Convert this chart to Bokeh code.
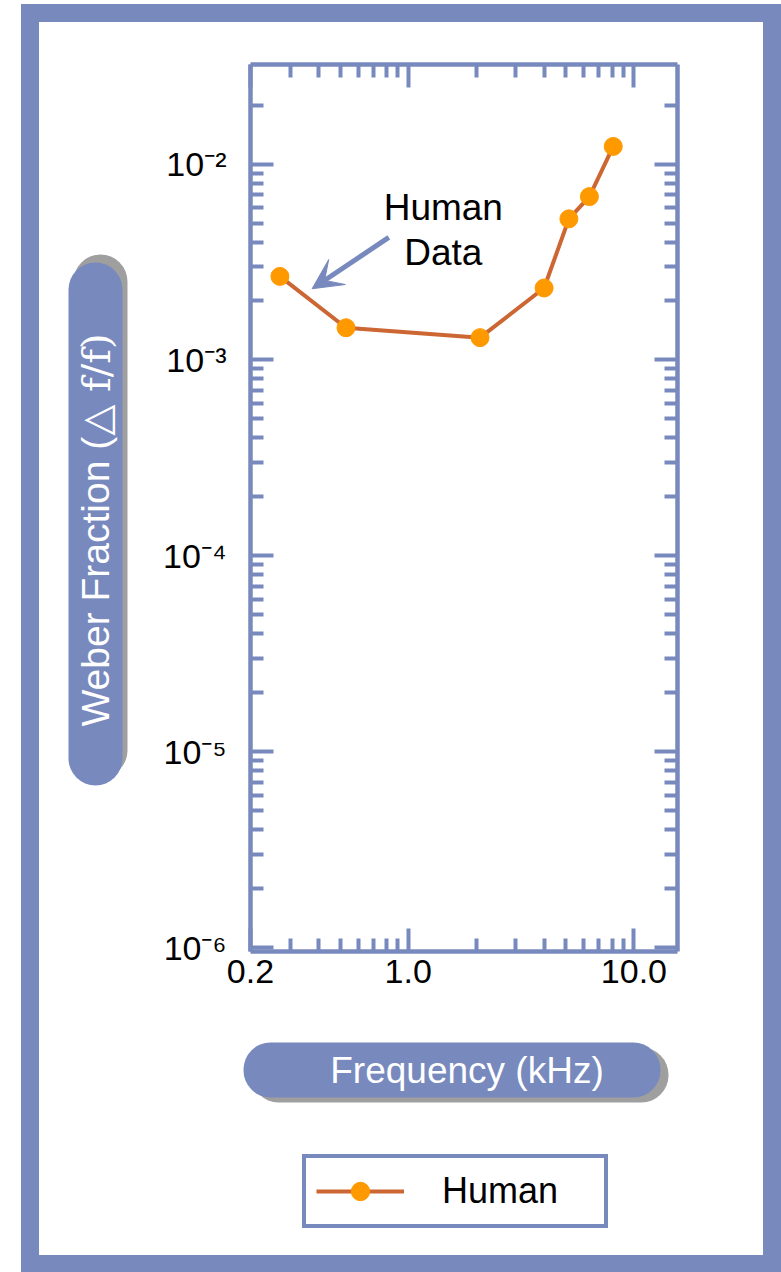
from bokeh.plotting import figure
from bokeh.models import (LogAxis, FixedTicker, Label, Arrow, VeeHead, BoxAnnotation,
                          Legend, LegendItem, Range1d, Column, Row)
from bokeh.embed import file_html
from bokeh.resources import INLINE

# ---- data ----
freq_khz = [0.27, 0.53, 2.08, 4.0, 5.15, 6.35, 8.1]
weber_fraction = [2.67e-3, 1.46e-3, 1.30e-3, 2.33e-3, 5.25e-3, 6.82e-3, 1.23e-2]
series_name = "Human"

x_ticks = [0.2, 1.0, 10.0]
x_tick_labels = ["0.2", "1.0", "10.0"]
x_minor_ticks = [0.3, 0.4, 0.5, 0.6, 0.7, 0.8, 0.9, 2, 3, 4, 5, 6, 7, 8, 9]
y_ticks = [1e-6, 1e-5, 1e-4, 1e-3, 1e-2]
y_tick_labels = ["10\u207b\u2076", "10\u207b\u2075", "10\u207b\u2074", "10\u207b\u00b3", "10\u207b\u00b2"]
y_mantissas = [2, 3, 4, 5, 6, 7, 8, 9]
y_minor_ticks = [m * d for d in [1e-6, 1e-5, 1e-4, 1e-3] for m in y_mantissas] + [2e-2]

x_title = "Frequency (kHz)"
y_title_parts = ["Weber Fraction (", "\u25b3 f/f)"]
note_lines = ["Human", "Data"]

# ---- styles ----
BLUE = "#7889be"
SHADOW = "#9f9f9f"
LINE_C = "#cc6633"
DOT_C = "#ff9900"
FONT = "Liberation Sans"
SERIF = "DejaVu Serif"


def blank_fig(w, h, top=0, bottom=0):
    f = figure(width=w, height=h, output_backend="svg", toolbar_location=None,
               x_axis_location=None, y_axis_location=None,
               x_range=Range1d(0, 1), y_range=Range1d(0, 1),
               min_border=0, min_border_left=0, min_border_right=0,
               min_border_top=top, min_border_bottom=bottom)
    f.xgrid.visible = False
    f.ygrid.visible = False
    f.outline_line_color = None
    f.background_fill_color = "white"
    f.border_fill_color = "white"
    return f


def sbox(l, r, t, b, **kw):
    return BoxAnnotation(left=l, right=r, top=t, bottom=b,
                         left_units="screen", right_units="screen",
                         top_units="screen", bottom_units="screen", **kw)


# ---- main plot ----
p = figure(width=623, height=988, x_axis_type="log", y_axis_type="log",
           x_range=Range1d(0.2, 15.6), y_range=Range1d(10 ** -6.019, 10 ** -1.492),
           output_backend="svg", toolbar_location=None,
           min_border_left=110, min_border_right=86, min_border_top=42, min_border_bottom=59)
p.xgrid.visible = False
p.ygrid.visible = False
p.outline_line_color = None
p.background_fill_color = "white"
p.border_fill_color = "white"


def style_axis(ax, ticks, minor, labels):
    ax.ticker = FixedTicker(ticks=ticks, minor_ticks=minor)
    ax.axis_line_color = BLUE
    ax.axis_line_width = 4.5
    ax.major_tick_line_color = BLUE
    ax.major_tick_line_width = 4
    ax.minor_tick_line_color = BLUE
    ax.minor_tick_line_width = 4
    ax.major_tick_in = 23
    ax.major_tick_out = 0
    ax.minor_tick_in = 13
    ax.minor_tick_out = 0
    ax.major_label_overrides = {t: s for t, s in zip(ticks, labels)}
    ax.major_label_text_font = FONT
    ax.major_label_text_font_size = "34px"
    ax.major_label_text_color = "black"


style_axis(p.xaxis[0], x_ticks, x_minor_ticks, x_tick_labels)
p.xaxis[0].major_label_standoff = 8
style_axis(p.yaxis[0], y_ticks, y_minor_ticks, y_tick_labels)
p.yaxis[0].major_label_standoff = 24

top_ax = LogAxis()
style_axis(top_ax, x_ticks, x_minor_ticks, ["" for _ in x_ticks])
p.add_layout(top_ax, "above")
right_ax = LogAxis()
style_axis(right_ax, y_ticks, y_minor_ticks, ["" for _ in y_ticks])
p.add_layout(right_ax, "right")

line_style = dict(line_color=LINE_C, line_width=4)
dot_style = dict(marker="circle", size=18, fill_color=DOT_C, line_color=DOT_C)
p.line(freq_khz, weber_fraction, **line_style)
p.scatter(freq_khz, weber_fraction, **dot_style)

p.add_layout(Label(x=1.43, y=6.0e-3, text=note_lines[0], text_align="center",
                   text_baseline="middle", text_font=FONT, text_font_size="37px",
                   text_color="black"))
p.add_layout(Label(x=1.43, y=3.53e-3, text=note_lines[1], text_align="center",
                   text_baseline="middle", text_font=FONT, text_font_size="37px",
                   text_color="black"))
p.add_layout(Arrow(x_start=0.82, y_start=4.22e-3, x_end=0.375, y_end=2.31e-3,
                   line_color=BLUE, line_width=5,
                   end=VeeHead(size=30, fill_color=BLUE, line_color=BLUE)))

# ---- y title pill (left strip; frame spans y 64..951 of the page) ----
left_fig = blank_fig(101, 988, top=42, bottom=59)
left_fig.add_layout(sbox(34, 88, 697, 174, fill_color=SHADOW, fill_alpha=1,
                         line_color=None, border_radius=27))
left_fig.add_layout(sbox(29, 83, 689, 166, fill_color=BLUE, fill_alpha=1,
                         line_color=None, border_radius=27))
left_fig.add_layout(Label(x=56, y=225, x_units="screen", y_units="screen",
                          text=y_title_parts[0], angle=90, angle_units="deg",
                          text_align="left", text_baseline="middle", text_color="white",
                          text_font=FONT, text_font_size="39px"))
left_fig.add_layout(Label(x=56, y=516, x_units="screen", y_units="screen",
                          text=y_title_parts[1], angle=90, angle_units="deg",
                          text_align="left", text_baseline="middle", text_color="white",
                          text_font=SERIF, text_font_size="40px"))

# ---- x title pill + legend (bottom strip) ----
bot_fig = blank_fig(724, 245)
bot_fig.add_layout(sbox(212, 629, 208, 153, fill_color=SHADOW, fill_alpha=1,
                        line_color=None, border_radius=27))
bot_fig.add_layout(sbox(204, 621, 213, 158, fill_color=BLUE, fill_alpha=1,
                        line_color=None, border_radius=27))
bot_fig.add_layout(Label(x=427.5, y=185.5, x_units="screen", y_units="screen", text=x_title,
                         text_align="center", text_baseline="middle", text_color="white",
                         text_font=FONT, text_font_size="37px"))
# legend proxies (same series, hidden in this strip)
leg_line = bot_fig.line(freq_khz, weber_fraction, visible=False, **line_style)
leg_dot = bot_fig.scatter(freq_khz, weber_fraction, visible=False, **dot_style)
legend = Legend(items=[LegendItem(label=series_name, renderers=[leg_line, leg_dot])],
                location=(263, 27), margin=0, padding=10, spacing=0,
                glyph_width=88, glyph_height=46, label_height=46,
                label_standoff=38, label_width=152,
                label_text_font=FONT, label_text_font_size="36px", label_text_color="black",
                border_line_color=BLUE, border_line_width=4, border_line_alpha=1,
                background_fill_color="white", background_fill_alpha=1)
bot_fig.add_layout(legend)

inner = Column(children=[Row(children=[left_fig, p], spacing=0), bot_fig], spacing=0,
               margin=18, styles={"background-color": "white"})
outer = Column(children=[inner], spacing=0, margin=(4, 0, 0, 21),
               styles={"background-color": BLUE})

open("out.html", "w").write(file_html(outer, INLINE))
